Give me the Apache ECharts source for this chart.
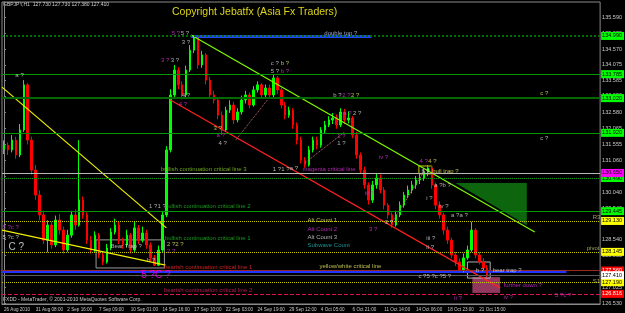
<!DOCTYPE html>
<html><head><meta charset="utf-8">
<script src="https://cdn.jsdelivr.net/npm/echarts/dist/echarts.min.js"></script>
<style>html,body{margin:0;padding:0;background:#000}#c{width:625px;height:313px}</style>
</head><body><div id="c"></div>
<script>
// ---------- data ----------
const timeLabels = ['26 Aug 2010','31 Aug 08:00','2 Sep 16:00','7 Sep 09:00','10 Sep 01:00','14 Sep 16:00','17 Sep 10:00','22 Sep 03:00','24 Sep 19:00','29 Sep 12:00','4 Oct 05:00','6 Oct 21:00','11 Oct 14:00','14 Oct 06:00','18 Oct 23:00','21 Oct 15:00'];
const slotCount = 151;
const priceTicks = [135.590,135.080,134.570,134.075,133.585,133.090,132.580,132.065,131.555,131.060,130.545,130.040,129.540,129.040,128.540,128.035,127.530,127.025,126.530];
// [open, close, low, high]
const candles = [
[131.40,131.53,131.25,131.68],[131.53,131.38,131.22,131.62],[131.38,131.69,131.30,131.85],[131.69,131.22,131.10,131.80],
[131.22,132.01,131.15,132.20],[132.01,133.44,131.95,133.59],[133.44,131.69,131.55,133.50],[131.69,130.74,130.60,131.80],
[130.74,129.95,129.80,130.90],[129.95,129.32,129.15,130.10],[129.32,128.52,128.40,129.45],[128.52,129.00,128.14,129.15],
[129.00,128.37,128.25,129.10],[128.37,129.16,128.30,129.30],[129.16,128.84,128.70,129.35],[128.84,128.21,128.10,128.95],
[128.21,128.68,128.15,128.85],[128.68,129.32,128.60,129.45],[129.32,129.00,128.85,129.50],[129.00,129.79,128.95,131.69],
[129.79,129.32,129.20,129.90],[129.32,128.52,128.40,129.40],[128.52,128.21,128.10,128.65],[128.21,128.68,128.15,128.80],
[128.68,128.05,127.95,128.75],[128.05,127.83,127.73,128.15],[127.83,128.27,127.78,128.40],[128.27,128.78,128.20,128.90],
[128.78,129.00,128.70,129.20],[129.00,128.52,128.40,129.10],[128.52,128.37,128.25,128.60],[128.37,128.68,128.30,128.85],
[128.68,128.21,128.10,128.75],[128.21,128.91,128.15,129.10],[128.91,128.52,128.40,129.00],[128.52,128.75,128.45,128.95],
[128.75,128.37,128.25,128.85],[128.37,127.96,127.85,128.45],[127.96,127.73,127.70,128.05],[127.73,128.21,127.70,128.35],
[128.21,129.32,128.15,129.45],[129.32,131.38,129.25,131.50],[131.38,133.12,131.30,133.30],[133.12,133.91,133.00,134.07],
[133.91,133.44,133.30,134.00],[133.44,133.12,132.98,133.55],[133.12,133.91,133.05,134.05],[133.91,134.54,133.85,134.70],
[134.54,134.92,134.45,135.02],[134.92,134.07,133.95,134.95],[134.07,134.39,133.98,134.52],[134.39,133.59,133.45,134.45],
[133.59,133.12,133.00,133.70],[133.12,132.96,132.85,133.25],[132.96,132.48,132.35,133.05],[132.48,132.01,131.85,132.60],
[132.01,132.64,131.95,132.75],[132.64,132.80,132.55,132.95],[132.80,132.33,132.20,132.90],[132.33,132.58,132.25,132.70],
[132.58,132.96,132.50,133.10],[132.96,133.12,132.85,133.25],[133.12,132.80,132.70,133.20],[132.80,133.28,132.75,133.40],
[133.28,133.44,133.20,133.55],[133.44,133.12,133.00,133.50],[133.12,133.34,133.05,133.45],[133.34,133.12,133.00,133.45],
[133.12,133.66,133.05,133.78],[133.66,133.28,133.15,133.72],[133.28,132.80,132.70,133.35],[132.80,132.48,132.35,132.90],
[132.48,132.64,132.40,132.75],[132.64,132.17,132.05,132.70],[132.17,131.69,131.55,132.25],[131.69,131.06,130.95,131.80],
[131.06,130.90,130.81,131.15],[130.90,131.38,130.85,131.50],[131.38,131.69,131.30,131.80],[131.69,131.53,131.40,131.80],
[131.53,132.01,131.45,132.10],[132.01,132.17,131.90,132.30],[132.17,132.33,132.10,132.45],[132.33,132.39,132.20,132.55],
[132.39,132.17,132.05,132.50],[132.17,132.58,132.10,132.70],[132.58,132.33,132.20,132.68],[132.33,132.39,132.22,132.60],
[132.39,131.85,131.75,132.45],[131.85,131.22,131.10,131.95],[131.22,130.74,130.62,131.30],[130.74,130.27,130.15,130.85],
[130.27,129.79,129.65,130.35],[129.79,130.27,129.70,130.40],[130.27,130.49,130.15,130.65],[130.49,130.11,130.00,130.60],
[130.11,129.63,129.50,130.20],[129.63,129.32,129.20,129.70],[129.32,129.00,128.91,129.40],[129.00,129.32,128.95,129.45],
[129.32,129.63,129.25,129.75],[129.63,129.95,129.55,130.05],[129.95,130.11,129.85,130.25],[130.11,130.27,130.00,130.40],
[130.27,130.43,130.15,130.55],[130.43,130.49,130.30,130.65],[130.49,130.68,130.40,130.78],[130.68,130.81,130.55,130.90],
[130.81,130.27,130.15,130.88],[130.27,129.63,129.50,130.35],[129.63,129.32,129.20,129.75],[129.32,128.84,128.70,129.40],
[128.84,128.52,128.40,128.95],[128.52,128.05,127.95,128.60],[128.05,127.83,127.70,128.15],[127.83,127.57,127.50,127.95],
[127.57,127.96,127.50,128.10],[127.96,128.21,127.90,128.35],[128.21,128.84,128.15,129.10],[128.84,128.05,127.95,128.90],
[128.05,127.83,127.75,128.15],[127.83,127.64,127.55,127.95],[127.64,127.41,127.35,127.73]
];
// horizontal levels
const solidGreenLevels = [133.785, 133.02, 131.92, 129.445];
const dottedGreenLevels = [134.99, 130.49];
const silverLevels = [130.65];
const pivotLevels = [129.13, 128.145, 127.19];
const redLevels = [127.56];
const currentPrice = [127.41];
const crimsonLevels = [126.816];
// trend lines / segments  [slot, price]
const yellowLineA = [[-0.5,133.37],[41,128.91]];
const yellowLineB = [[-0.5,128.84],[40.75,127.73]];
const limeLine = [[47.25,135.02],[134,128.78]];
const redLine = [[42,132.96],[125.25,127.01]];
const blueCritical = [[-0.5,127.53],[142,127.53]];
const doubleTop = [[47.25,134.97],[92.75,134.97]];
const dottedLinks = [[[58.5,131.69],[66.5,132.96]],[[76,130.97],[86,131.95]],[[98,129.10],[106,130.68]]];
// zones
const greenZone = [[114,130.33],[132,130.33],[132,128.99]];
const pinkZone = [[118.25,127.35],[125.25,127.35],[125.25,126.85],[118.25,126.85]];
const bearTrapBox = [[23.25,128.53],[40.5,128.53],[40.5,127.64],[23.25,127.64]];
const bBox = [[117,127.83],[122.75,127.83],[122.75,127.32],[117,127.32]];
const bullTrapBox = [[104.75,130.87],[108,130.87],[108,130.62],[104.75,130.62]];
// annotations [slot, price, text]
const whiteNotes = [
 [2.75,133.75,'a ?'],[44.5,135.08,'5 ?'],[44.75,134.80,'3 ?'],[42,134.23,'3 ?'],[44.75,133.12,'4 ?'],
 [67.25,134.13,'c ?'],[67.25,133.88,'5 ?'],[83,133.12,'b ?'],[135.25,131.76,'c ?'],[54,131.60,'4 ?'],
 [88,132.55,'2 ?'],[84,131.60,'1 ?'],[67.75,130.77,'1 ?1 ?'],[72,130.81,'a ?'],[105.25,130.71,'b ?'],
 [108.5,130.27,'a ?b ?'],[106.5,129.86,'i ?'],[109.75,129.60,'iv ?'],[112.75,129.32,'a ?a ?'],
 [106.5,128.59,'iii ?'],[106.5,128.30,'ii ?'],[104.5,127.39,'c ?5 ?c ?5 ?'],[119,127.58,'b ?'],
 [123.25,127.58,'bear trap ?'],[-0.5,128.62,'5 ?c ?'],[26.75,128.34,'Bear Trap ?'],[36,127.89,'b ?'],
 [36.5,129.60,'1 ?1 ?'],[76.5,128.62,'Alt Count 3'],[96,129.10,'3 ?']
];
const magentaNotes = [
 [42.25,135.08,'5 ?'],[39.5,134.23,'3 ?'],[44,132.83,'4 ?'],[69.75,133.88,'b ?'],[85.25,133.12,'2 ?'],
 [53.5,131.85,'a ?'],[85.5,132.55,'a ?'],[84,131.82,'1 ?'],[75.25,130.77,'magenta critical line'],
 [94.5,131.15,'iv ?'],[91,130.01,'iii ?'],[104.75,131.03,'4 ?'],[-0.5,128.94,'5 ?c ?'],[41,128.18,'2 ?'],
 [92,128.87,'3 ?'],[126,127.10,'further down ?'],[126,126.72,'iv ?'],[139,126.78,'5 ?c ?'],[113.5,126.69,'ii ?'],
 [76.5,128.87,'Alt Count 2']
];
const yellowNotes = [
 [69.75,134.13,'b ?'],[87.5,133.12,'2 ?'],[135.25,133.18,'c ?'],[52.75,132.07,'3 ?'],[107,131.03,'4 ?'],
 [41,128.40,'2 ?2 ?'],[108,130.71,'bull trap ?'],[76.5,129.16,'Alt Count 1'],[79.5,127.70,'yellow/white critical line']
];
const pivotNotes = [[148.5,129.25,'R3'],[147,128.27,'pivot'],[148.5,127.23,'S1']];
const greenNotes = [[40.5,128.59,'bullish continuation critical line 1'],[40.5,129.60,'bullish continuation critical line 2']];
const yellowGreenNotes = [[39.5,130.77,'bullish continuation critical line 3']];
const redNotes = [[40.25,127.67,'bearish continuation critical line 1']];
const crimsonNotes = [[40.25,126.94,'bearish continuation critical line 2']];
const cyanNotes = [[76.5,128.37,'Subwave Count']];
const blueNotes = [[80.75,135.08,'double top ?']];
const bigWhiteNotes = [[1,128.30,'C ?']];
const bigMagentaNotes = [[34.5,127.42,'5 ?C ?']];

// ---------- chart ----------
const FONT = 'Liberation Sans';
const slots = Array.from({length: slotCount}, (_, i) => String(i));
const chart = echarts.init(document.getElementById('c'));

function hLine(v, color, type, width, bg, fg) {
  return { yAxis: v, lineStyle: {color: color, type: type, width: width},
    label: {show: true, position: 'end', distance: 1, formatter: v.toFixed(3), backgroundColor: bg,
      color: fg, fontSize: 5.5, fontFamily: FONT, padding: [1, 2, 0, 1], lineHeight: 7} };
}
function seg(data, color, width, type, z) {
  return {type: 'line', xAxisIndex: 1, yAxisIndex: 0, data: data, symbol: 'none', silent: true,
    lineStyle: {color: color, width: width, type: type || 'solid'}, z: z || 4, animation: false};
}
function notes(data, color, size) {
  return {type: 'scatter', xAxisIndex: 1, yAxisIndex: 0, data: data, symbolSize: 1, silent: true, z: 6,
    itemStyle: {color: 'rgba(0,0,0,0)'}, animation: false,
    label: {show: true, position: 'right', distance: 0, formatter: p => p.data[2], color: color,
      fontSize: size || 6, fontFamily: FONT}};
}
function zone(points, fill, stroke) {
  return {type: 'custom', xAxisIndex: 1, yAxisIndex: 0, data: [[0, 0]], silent: true, z: 2, animation: false,
    renderItem: (params, api) => ({type: 'polygon', shape: {points: points.map(p => api.coord(p))},
      style: {fill: fill, stroke: stroke || null, lineWidth: 1}})};
}

const markData = [].concat(
  dottedGreenLevels.map((v, i) => hLine(v, i === 0 ? '#007000' : '#00a000', 'dotted', i === 0 ? 2 : 1, '#00ff00', '#000')),
  solidGreenLevels.map((v, i) => hLine(v, i === 1 ? '#006a00' : '#009a00', 'solid', i === 1 ? 2 : 1, '#00ff00', '#000')),
  silverLevels.map(v => hLine(v, '#b8b8b8', 'solid', 1, '#ff00ff', '#000')),
  pivotLevels.map(v => hLine(v, '#c8c800', 'dotted', 1, '#ffff00', '#000')),
  redLevels.map(v => hLine(v, '#9a2a20', 'solid', 1, '#ff0000', '#fff')),
  currentPrice.map(v => hLine(v, '#5a5a5a', 'solid', 1, '#ffffff', '#000')),
  crimsonLevels.map(v => hLine(v, '#dc1450', 'dashed', 1, '#ff0000', '#fff'))
);

const showTime = (i) => i % 8 === 0 && i / 8 < timeLabels.length;
const option = {
  backgroundColor: '#000',
  animation: false,
  grid: {left: 2, right: 18, top: 2, bottom: 9, show: true, borderColor: '#8a8a8a', borderWidth: 1},
  xAxis: [
    {type: 'category', data: slots, boundaryGap: true,
      axisLine: {lineStyle: {color: '#8a8a8a'}},
      axisTick: {interval: showTime, length: 2, lineStyle: {color: '#8a8a8a'}},
      axisLabel: {interval: showTime,
        formatter: (v, i) => showTime(i) ? timeLabels[i / 8] : '',
        align: 'left', color: '#c8c8c8', fontSize: 4.6, fontFamily: FONT, margin: 3},
      splitLine: {show: false}},
    {type: 'value', min: -0.5, max: slotCount - 0.5, show: false}
  ],
  yAxis: {type: 'value', position: 'right', min: 126.499, max: 136.065, scale: true,
    axisLine: {show: true, lineStyle: {color: '#8a8a8a'}},
    axisTick: {show: true, customValues: priceTicks, length: 2, lineStyle: {color: '#8a8a8a'}},
    axisLabel: {customValues: priceTicks, formatter: v => v.toFixed(3), color: '#c8c8c8', fontSize: 5.5, fontFamily: FONT, margin: 2},
    splitLine: {show: false}},
  graphic: [
    {type: 'text', left: 3, top: 2, style: {text: 'GBPJPY,H1  127.730 127.730 127.380 127.410', fill: '#d0d0d0', font: '5px "Liberation Sans"'}},
    {type: 'text', left: 172, top: 7, style: {text: 'Copyright Jebatfx (Asia Fx Traders)', fill: '#dcd41c', font: '10.5px "Liberation Sans"'}},
    {type: 'text', left: 3, top: 297, style: {text: 'FXDD - MetaTrader, \u00a9 2001-2010 MetaQuotes Software Corp.', fill: '#c8c8c8', font: '5px "Liberation Sans"'}}
  ],
  series: [
    {type: 'line', data: [], z: 1, markLine: {symbol: 'none', silent: true, animation: false, data: markData}},
    zone(greenZone, '#0d660d'),
    zone(pinkZone, '#93375f'),
    zone(bearTrapBox, 'rgba(0,0,0,0)', '#9a9a9a'),
    zone(bBox, 'rgba(0,0,0,0)', '#b0b0b0'),
    zone(bullTrapBox, 'rgba(0,0,0,0)', '#c8c800'),
    {type: 'candlestick', data: candles, barWidth: 2, z: 3, silent: true,
      itemStyle: {color: '#00ff00', color0: '#ff0000', borderColor: '#00ff00', borderColor0: '#ff0000', borderWidth: 1}},
    seg(yellowLineA, '#f0f000', 1.2),
    seg(yellowLineB, '#f0f000', 1.2),
    seg(limeLine, '#7cfc00', 1.2),
    seg(redLine, '#ff2020', 1.2),
    seg(blueCritical, '#2233ff', 3, 'solid', 3),
    seg(doubleTop, '#2244ff', 3, 'solid', 3),
    ...dottedLinks.map(d => seg(d, '#d07070', 1, 'dotted')),
    notes(whiteNotes, '#d8d8d8'),
    notes(magentaNotes, '#dd33dd'),
    notes(yellowNotes, '#e0e060'),
    notes(pivotNotes, '#c8c878'),
    notes(greenNotes, '#22bb22', 6),
    notes(yellowGreenNotes, '#88cc22', 6),
    notes(redNotes, '#ff3030', 6),
    notes(crimsonNotes, '#e0206a', 6),
    notes(cyanNotes, '#22b4b4'),
    notes(blueNotes, '#c0c8f0'),
    notes(bigWhiteNotes, '#e8e8e8', 10),
    notes(bigMagentaNotes, '#ff00ff', 10)
  ]
};
chart.setOption(option);
</script></body></html>
